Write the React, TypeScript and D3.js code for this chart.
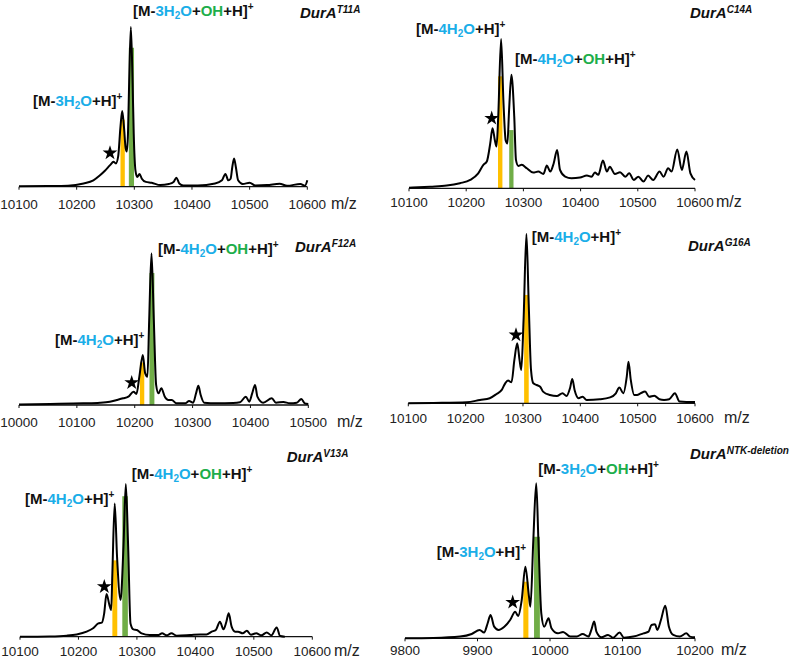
import React from 'react';
import * as d3 from 'd3';

// ---------- data (m/z, relative intensity %) ----------
const ticksA = [10100, 10200, 10300, 10400, 10500, 10600];
const ticksF = [10000, 10100, 10200, 10300, 10400, 10500];
const ticksN = [9800, 9900, 10000, 10100, 10200];

const spectrumT11A: [number, number][] = [
  [10100, 0.3], [10150, 0.4], [10185, 0.6], [10212, 2], [10229, 4], [10240, 7], [10249, 10], [10258, 13.5],
  [10264, 15.6], [10268, 14.6], [10272, 19], [10276, 37.6], [10279, 47.4], [10282, 37.6], [10285, 24], [10287, 22],
  [10289, 33], [10291, 65], [10294, 100], [10297, 65], [10299, 33], [10302, 10], [10305, 6], [10309, 8],
  [10313, 5], [10320, 3], [10330, 2.5], [10345, 1], [10360, 1.7], [10368, 3], [10373, 5.6], [10378, 2],
  [10385, 0.8], [10410, 0.8], [10440, 2], [10452, 4], [10458, 8], [10463, 4], [10467, 5], [10470, 12.5],
  [10473, 17.7], [10476, 12.5], [10480, 4], [10488, 1.7], [10500, 2.5], [10510, 0.8], [10530, 1], [10552, 1.9],
  [10565, 0.6], [10588, 1.7], [10596, 0.6], [10600, 4],
];

const spectrumC14A: [number, number][] = [
  [10100, 0.4], [10137, 1.1], [10166, 1.8], [10189, 3.4], [10207, 5.6], [10221, 10], [10230, 15.7], [10236, 17.9],
  [10242, 30], [10246, 40.3], [10250, 32.4], [10253, 28], [10256, 48], [10261, 100], [10265, 59], [10269, 32],
  [10272, 30], [10275, 52.6], [10279, 76], [10284, 48], [10287, 19], [10291, 15], [10297, 15.7], [10306, 13.4],
  [10317, 10.5], [10326, 11.2], [10335, 9.6], [10341, 15.2], [10347, 11.2], [10353, 16.8], [10359, 25.7], [10364, 12.3],
  [10373, 7.8], [10384, 6.7], [10399, 7.2], [10411, 8.5], [10419, 7.8], [10425, 10.5], [10431, 9], [10439, 18.6],
  [10446, 11.2], [10451, 14.5], [10460, 9.6], [10469, 10.7], [10478, 7.8], [10485, 10], [10493, 5.6], [10501, 7.8],
  [10510, 4.5], [10518, 8.5], [10527, 5.6], [10538, 11.2], [10545, 7.8], [10553, 13.4], [10559, 11.2], [10569, 26],
  [10577, 12.3], [10585, 24.6], [10592, 10], [10600, 5.6],
];

const spectrumF12A: [number, number][] = [
  [10000, 0.4], [10054, 0.7], [10111, 1.1], [10140, 1.5], [10157, 2.2], [10169, 3.3], [10180, 4.4], [10189, 5.5],
  [10198, 8.8], [10203, 7.3], [10208, 18.7], [10214, 33], [10218, 21], [10222, 18.7], [10225, 56], [10229, 100],
  [10233, 56], [10237, 13.2], [10241, 7.7], [10246, 11], [10252, 5.5], [10258, 3.3], [10264, 3.3], [10272, 1.1],
  [10287, 1.1], [10294, 2.6], [10301, 1.5], [10306, 7.7], [10310, 12.7], [10314, 6.6], [10320, 1.5], [10342, 1.1],
  [10370, 1.3], [10382, 1.8], [10392, 5.5], [10398, 2.2], [10403, 7.7], [10408, 13.2], [10412, 5.5], [10422, 1.5],
  [10437, 4.4], [10444, 1.5], [10457, 2], [10468, 1.1], [10480, 1.5], [10488, 4], [10494, 1.1], [10500, 0.7],
];

const spectrumG16A: [number, number][] = [
  [10100, 0], [10144, 0.2], [10202, 0.6], [10225, 2], [10242, 3], [10254, 5.5], [10263, 7.9], [10269, 11.8],
  [10274, 13.4], [10280, 12.4], [10285, 25.6], [10290, 35.4], [10294, 25.6], [10297, 19.7], [10301, 49], [10306, 100],
  [10310, 59], [10314, 19.7], [10318, 11.8], [10324, 10.8], [10330, 9.8], [10335, 6.9], [10347, 4.9], [10359, 4.3],
  [10369, 5.9], [10376, 4.3], [10382, 8.9], [10386, 14.4], [10390, 7.9], [10397, 3], [10404, 3.9], [10411, 2],
  [10434, 2.4], [10452, 3.5], [10462, 5.9], [10468, 9.3], [10475, 5.9], [10481, 15.7], [10484, 24.6], [10488, 13.8],
  [10494, 4.9], [10499, 4.9], [10505, 5.9], [10513, 6.9], [10520, 3.9], [10529, 4.5], [10538, 2.4], [10546, 2],
  [10555, 2.4], [10565, 5.9], [10573, 1], [10585, 0.8], [10600, 0.8],
];

const spectrumV13A: [number, number][] = [
  [10100, 0], [10151, 0.2], [10180, 0.7], [10197, 1.5], [10214, 3.3], [10225, 5.5], [10234, 8.7], [10240, 9.2],
  [10244, 15.3], [10248, 28], [10253, 20.7], [10256, 17.5], [10258, 41.5], [10262, 87.3], [10266, 52.4], [10272, 24],
  [10277, 59], [10281, 100], [10285, 59], [10289, 8.7], [10294, 4.8], [10300, 4.4], [10308, 2.2], [10322, 1.1],
  [10337, 1.1], [10343, 2.2], [10351, 0.9], [10359, 2.2], [10368, 0.7], [10391, 1.1], [10408, 1.5], [10419, 1.5],
  [10428, 3.3], [10435, 4.4], [10442, 9.8], [10448, 4.8], [10453, 9.8], [10457, 15.3], [10462, 6.6], [10468, 3.3],
  [10473, 3.3], [10481, 2.2], [10488, 3.9], [10495, 1.3], [10504, 2.2], [10513, 0.9], [10522, 2.8], [10530, 0.9],
  [10539, 6.1], [10545, 0.4], [10553, 0],
];

const spectrumNTK: [number, number][] = [
  [9800, 0], [9839, 0.2], [9876, 1.1], [9892, 2.8], [9903, 5.4], [9909, 3.7], [9914, 9.7], [9918, 15],
  [9923, 7.5], [9929, 5.4], [9937, 7.5], [9945, 11.8], [9952, 17.2], [9956, 14.4], [9961, 24.7], [9966, 46.2],
  [9971, 26.9], [9973, 20.4], [9977, 63.4], [9981, 100], [9984, 63.4], [9988, 16.1], [9992, 7.5], [9998, 12.9],
  [10002, 6.5], [10011, 3.2], [10018, 4.1], [10028, 1.1], [10037, 1.1], [10045, 2.8], [10053, 1.1], [10057, 5.4],
  [10061, 10.8], [10064, 4.3], [10071, 0.6], [10080, 2.2], [10087, 0.4], [10096, 3.7], [10102, 0.4], [10115, 1.1],
  [10129, 3.2], [10136, 4.3], [10140, 8.6], [10145, 9], [10148, 5.4], [10153, 11.8], [10159, 21], [10164, 7.5],
  [10170, 2.2], [10179, 1.1], [10188, 3.2], [10193, 1.1], [10200, 0.6],
];

// highlighted peaks: [mzStart, mzEnd, relative height %]
const barsT11A: [number, number, number][] = [[10276, 10283.5, 42], [10290.5, 10299.5, 87]];
const barsC14A: [number, number, number][] = [[10255.6, 10263.3, 75], [10275.2, 10282.7, 39]];
const barsF12A: [number, number, number][] = [[10209, 10216.5, 28], [10225.5, 10234, 87]];
const barsG16A: [number, number, number][] = [[10302, 10310, 64]];
const barsV13A: [number, number, number][] = [[10258, 10266.4, 50], [10275, 10284.5, 92]];
const barsNTK: [number, number, number][] = [[9963.2, 9970.2, 36.5], [9978, 9986, 65.5]];

// ---------- styling ----------
const CYAN = '#1AAEE8';
const GREEN_TXT = '#1DAE4B';
const YELLOW = '#FFC000';
const GREEN_BAR = '#70AD47';
const FONT = '"Liberation Sans", Arial, sans-serif';

type Seg = { t: string; c?: string; sub?: boolean; sup?: boolean };
function formula(water: string, oh: boolean): Seg[] {
  const s: Seg[] = [
    { t: '[M-' },
    { t: water + 'H', c: CYAN },
    { t: '2', c: CYAN, sub: true },
    { t: 'O', c: CYAN },
  ];
  if (oh) {
    s.push({ t: '+' });
    s.push({ t: 'OH', c: GREEN_TXT });
  }
  s.push({ t: '+H]' });
  s.push({ t: '+', sup: true });
  return s;
}

const Formula: React.FC<{ x: number; y: number; segs: Seg[] }> = ({ x, y, segs }) => {
  let shift = 0;
  return (
    <text x={x} y={y} fontFamily={FONT} fontWeight="bold" fontSize={15} fill="#111">
      {segs.map((s, i) => {
        const target = s.sub ? 3 : s.sup ? -6 : 0;
        const dy = target - shift;
        shift = target;
        return (
          <tspan key={i} dy={dy} fill={s.c || '#111'} fontSize={s.sub || s.sup ? 10 : 15}>
            {s.t}
          </tspan>
        );
      })}
    </text>
  );
};

const Title: React.FC<{ x: number; y: number; sup: string }> = ({ x, y, sup }) => (
  <text x={x} y={y} fontFamily={FONT} fontWeight="bold" fontStyle="italic" fontSize={15} fill="#111">
    DurA
    <tspan dy={-5} fontSize={10}>{sup}</tspan>
  </text>
);

type Panel = {
  data: [number, number][];
  bars: [number, number, number][];
  ticks: number[];
  x0: number; x1: number; base: number; top: number;
  tickY: number; mzX: number;
  title: { x: number; y: number; sup: string };
  labels: { x: number; y: number; water: string; oh: boolean }[];
  star: [number, number];
};

const panels: Panel[] = [
  {
    data: spectrumT11A, bars: barsT11A, ticks: ticksA,
    x0: 19, x1: 307.3, base: 186.7, top: 27, tickY: 209, mzX: 331,
    title: { x: 300, y: 18, sup: 'T11A' },
    labels: [{ x: 133, y: 15.5, water: '3', oh: true }, { x: 33, y: 106, water: '3', oh: false }],
    star: [110, 153],
  },
  {
    data: spectrumC14A, bars: barsC14A, ticks: ticksA,
    x0: 409, x1: 695, base: 188.3, top: 39, tickY: 207, mzX: 716,
    title: { x: 690, y: 18, sup: 'C14A' },
    labels: [{ x: 416, y: 34, water: '4', oh: false }, { x: 515, y: 64, water: '4', oh: true }],
    star: [491.7, 118.3],
  },
  {
    data: spectrumF12A, bars: barsF12A, ticks: ticksF,
    x0: 19, x1: 308.3, base: 405, top: 253.3, tickY: 426.5, mzX: 337,
    title: { x: 295, y: 252, sup: 'F12A' },
    labels: [{ x: 158, y: 254, water: '4', oh: true }, { x: 55, y: 345, water: '4', oh: false }],
    star: [131.7, 382.7],
  },
  {
    data: spectrumG16A, bars: barsG16A, ticks: ticksA,
    x0: 408.3, x1: 695, base: 403.3, top: 234, tickY: 423, mzX: 724,
    title: { x: 688, y: 251, sup: 'G16A' },
    labels: [{ x: 531.7, y: 242, water: '4', oh: false }],
    star: [516, 335],
  },
  {
    data: spectrumV13A, bars: barsV13A, ticks: ticksA,
    x0: 20, x1: 312.3, base: 636.7, top: 484, tickY: 655.5, mzX: 334,
    title: { x: 286.7, y: 462, sup: 'V13A' },
    labels: [{ x: 131.7, y: 479, water: '4', oh: true }, { x: 25, y: 504, water: '4', oh: false }],
    star: [104.3, 586.7],
  },
  {
    data: spectrumNTK, bars: barsNTK, ticks: ticksN,
    x0: 405, x1: 695, base: 638.3, top: 483.3, tickY: 655, mzX: 721,
    title: { x: 690, y: 459, sup: 'NTK-deletion' },
    labels: [{ x: 538.3, y: 474, water: '3', oh: true }, { x: 436.7, y: 557, water: '3', oh: false }],
    star: [512.7, 602.3],
  },
];

const PanelView: React.FC<{ p: Panel }> = ({ p }) => {
  const x = d3.scaleLinear().domain([p.ticks[0], p.ticks[p.ticks.length - 1]]).range([p.x0, p.x1]);
  const y = d3.scaleLinear().domain([0, 100]).range([p.base, p.top]);
  const line = d3
    .line<[number, number]>()
    .x((d) => x(d[0]))
    .y((d) => y(d[1]))
    .curve(d3.curveMonotoneX);
  const star = d3.symbol().type(d3.symbolStar).size(68)();
  return (
    <g>
      {p.bars.map((b, i) => (
        <rect
          key={i}
          x={x(b[0])}
          width={x(b[1]) - x(b[0])}
          y={y(b[2])}
          height={y(0) - y(b[2])}
          fill={p.bars.length === 1 || i === 0 ? YELLOW : GREEN_BAR}
        />
      ))}
      <line x1={p.x0} x2={p.x1} y1={p.base} y2={p.base} stroke="#111" strokeWidth={1.3} />
      {p.ticks.map((t) => (
        <g key={t}>
          <line x1={x(t)} x2={x(t)} y1={p.base} y2={p.base + 3} stroke="#111" strokeWidth={1} />
          <text x={x(t)} y={p.tickY} textAnchor="middle" fontFamily={FONT} fontSize={13.5} fill="#222">
            {t}
          </text>
        </g>
      ))}
      <text x={p.mzX} y={p.tickY} fontFamily={FONT} fontSize={16} fill="#222">
        m/z
      </text>
      <path d={line(p.data) || ''} fill="none" stroke="#000" strokeWidth={2} strokeLinejoin="round" />
      <path d={star || ''} transform={`translate(${p.star[0]},${p.star[1]})`} fill="#000" />
      {p.labels.map((l, i) => (
        <Formula key={i} x={l.x} y={l.y} segs={formula(l.water, l.oh)} />
      ))}
      <Title {...p.title} />
    </g>
  );
};

export default function App() {
  return (
    <svg
      width={800}
      height={662}
      viewBox="0 0 800 662"
      style={{ position: 'absolute', left: 0, top: 0, background: '#fff' }}
    >
      <rect width={800} height={662} fill="#fff" />
      {panels.map((p, i) => (
        <PanelView key={i} p={p} />
      ))}
    </svg>
  );
}
